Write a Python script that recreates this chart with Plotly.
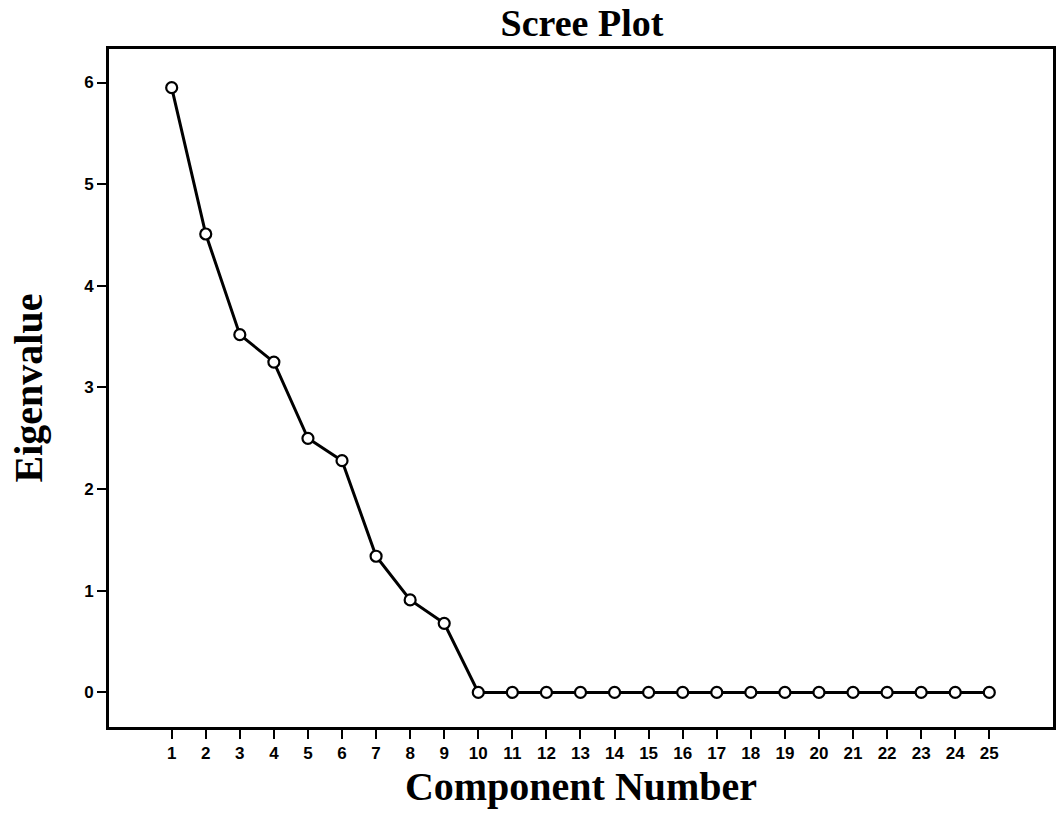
import plotly.graph_objects as go

components = list(range(1, 26))
eigenvalues = [5.95, 4.51, 3.52, 3.25, 2.50, 2.28, 1.34, 0.91, 0.68,
               0.0, 0.0, 0.0, 0.0, 0.0, 0.0, 0.0, 0.0, 0.0, 0.0, 0.0,
               0.0, 0.0, 0.0, 0.0, 0.0]
y_ticks = [0, 1, 2, 3, 4, 5, 6]

fig = go.Figure()
fig.add_trace(go.Scatter(
    x=components, y=eigenvalues, mode="lines+markers",
    line=dict(color="black", width=3),
    marker=dict(symbol="circle", size=11, color="white",
                line=dict(color="black", width=2.2)),
    showlegend=False,
))

serif = "Liberation Serif, Times New Roman, serif"
sans = "Liberation Sans, Arial, sans-serif"

fig.update_layout(
    width=1064, height=819,
    margin=dict(l=109, r=11, t=49, b=92),
    paper_bgcolor="white", plot_bgcolor="white",
    title=dict(text="<b>Scree Plot</b>", x=0.547, xanchor="center",
               y=0.972, yanchor="middle", yref="container",
               font=dict(family=serif, size=38, color="black")),
    xaxis=dict(
        range=[-0.84, 26.87], tickmode="array", tickvals=components,
        ticktext=[f"<b>{c}</b>" for c in components],
        ticks="outside", ticklen=9, tickwidth=2, tickcolor="black",
        tickfont=dict(family=sans, size=17, color="black"),
        showline=True, linewidth=3, linecolor="black", mirror=True,
        showgrid=False, zeroline=False, automargin=False,
        title=dict(text="<b>Component Number</b>", standoff=10,
                   font=dict(family=serif, size=40, color="black")),
    ),
    yaxis=dict(
        range=[-0.34, 6.33], tickmode="array", tickvals=y_ticks,
        ticktext=[f"<b>{v}</b>" for v in y_ticks],
        ticks="outside", ticklen=9, tickwidth=2, tickcolor="black",
        tickfont=dict(family=sans, size=17, color="black"),
        showline=True, linewidth=3, linecolor="black", mirror=True,
        showgrid=False, zeroline=False, automargin=False,
        title=dict(text="<b>Eigenvalue</b>", standoff=30,
                   font=dict(family=serif, size=40, color="black")),
    ),
)

fig.write_html("out.html",
               config={"displayModeBar": False},
               post_script="document.body.style.margin='0';"
                           "document.body.style.overflow='hidden';")
